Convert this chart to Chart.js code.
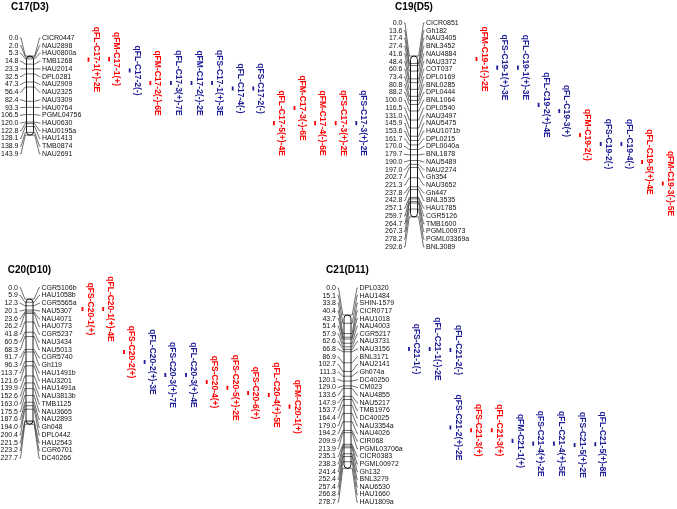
<!DOCTYPE html>
<html><head><meta charset="utf-8">
<script src="https://cdn.jsdelivr.net/npm/chart.js@4.4.1/dist/chart.umd.min.js"></script>
<style>
html,body{margin:0;padding:0;background:#fff;}
#wrap{position:relative;width:677px;height:509px;overflow:hidden;background:#fff;}
canvas{position:absolute;}
</style></head><body><div id="wrap">
<canvas id="c17" width="382" height="262" style="left:0px;top:0px"></canvas>
<canvas id="c19" width="295" height="262" style="left:382px;top:0px"></canvas>
<canvas id="c20" width="316" height="247" style="left:0px;top:262px"></canvas>
<canvas id="c21" width="361" height="247" style="left:316px;top:262px"></canvas>
</div>
<script>
// ---------------- DATA ----------------
// C17(D3)
const c17Title = "C17(D3)";
const c17Markers = ["CICR0447","NAU2898","HAU0800a","TMB1268","HAU2014","DPL0281","NAU2909","NAU2325","NAU3309","HAU0764","PGML04756","HAU0630","HAU0195a","HAU1413","TMB0874","NAU2691"];
const c17Pos = [0.0,2.0,5.3,14.8,23.3,32.5,47.3,56.4,82.4,93.3,106.5,120.0,122.8,128.1,138.9,143.9];
const c17Qtl = ["qFL-C17-1(+)-2E","qFM-C17-1(+)","qFL-C17-2(-)","qFM-C17-2(-)-6E","qFL-C17-3(+)-7E","qFM-C17-2(-)-2E","qFS-C17-1(+)-3E","qFL-C17-4(-)","qFS-C17-2(-)","qFL-C17-5(+)-4E","qFM-C17-3(-)-6E","qFM-C17-4(-)-6E","qFS-C17-3(+)-2E","qFS-C17-3(+)-2E"];
const c17QtlStart = [2.7,1.8,22.6,45.3,45.3,45.3,45.3,55.3,55.3,118.2,90.7,118.2,118.2,118.2];
const c17QtlEnd   = [10.3,9.4,30.2,52.9,52.9,52.9,52.9,62.9,62.9,125.8,98.3,125.8,125.8,125.8];
const c17QtlTrack = [1,2,3,4,5,6,7,8,9,10,11,12,13,14];
const c17QtlGroup = ["R","R","B","R","B","B","B","B","B","R","R","R","R","B"];

// C19(D5)
const c19Title = "C19(D5)";
const c19Markers = ["CICR0851","Gh182","NAU3405","BNL3452","NAU4884","NAU3372","COT037","DPL0169","BNL0285","DPL0444","BNL1064","DPL0540","NAU3497","NAU5475","HAU1071b","DPL0215","DPL0040a","BNL1878","NAU5489","NAU2274","Gh354","NAU3652","Gh447","BNL3535","HAU1785","CGR5126","TMB1600","PGML00973","PGML03369a","BNL3089"];
const c19Pos = [0.0,13.6,17.4,27.4,41.6,48.4,60.6,73.4,80.8,88.2,100.0,116.5,131.0,145.9,153.6,161.7,170.0,179.7,190.0,197.0,202.7,221.3,237.8,242.8,257.1,259.7,264.7,267.3,278.2,292.6];
const c19Qtl = ["qFM-C19-1(-)-2E","qFS-C19-1(+)-3E","qFL-C19-1(+)-3E","qFL-C19-2(+)-4E","qFL-C19-3(+)","qFM-C19-2(-)","qFS-C19-2(-)","qFL-C19-4(-)","qFL-C19-5(+)-4E","qFM-C19-3(-)-5E"];
const c19QtlStart = [1.7,17.2,17.2,85.2,96.2,139.8,156.2,156.2,188.9,228.0];
const c19QtlEnd   = [9.3,24.8,24.8,92.8,103.8,147.4,163.8,163.8,196.5,235.6];
const c19QtlTrack = [1,2,3,4,5,6,7,8,9,10];
const c19QtlGroup = ["R","B","B","B","B","R","B","B","R","R"];

// C20(D10)
const c20Title = "C20(D10)";
const c20Markers = ["CGR5106b","HAU1058b","CGR5565a","NAU5307","NAU4071","HAU0773","CGR5237","NAU3434","NAU5013","CGR5740","Gh119","HAU1491b","HAU3201","HAU1491a","NAU3813b","TMB1125","NAU3665","NAU2893","Gh048","DPL0442","HAU2543","CGR6701","DC40266"];
const c20Pos = [0.0,5.9,12.3,20.1,23.6,26.2,41.8,60.5,68.3,91.7,96.3,113.7,121.6,139.9,152.6,163.0,175.5,187.6,194.0,200.4,221.5,223.2,227.7];
const c20Qtl = ["qFS-C20-1(+)","qFL-C20-1(+)-4E","qFS-C20-2(+)","qFL-C20-2(+)-3E","qFS-C20-3(+)-7E","qFL-C20-3(+)-4E","qFS-C20-4(+)","qFS-C20-5(+)-2E","qFS-C20-6(+)","qFL-C20-4(+)-5E","qFM-C20-1(+)"];
const c20QtlStart = [14.4,14.4,92.6,110.7,134.4,134.4,147.1,157.5,167.1,170.7,192.0];
const c20QtlEnd   = [22.0,22.0,100.2,118.3,142.0,142.0,154.7,165.1,174.7,178.3,199.6];
const c20QtlTrack = [1,2,3,4,5,6,7,8,9,10,11];
const c20QtlGroup = ["R","R","R","B","B","B","R","R","R","R","R"];

// C21(D11)
const c21Title = "C21(D11)";
const c21Markers = ["DPL0320","HAU1484","SHIN-1579","CICR0717","HAU1018","NAU4003","CGR5217","NAU3731","NAU3156","BNL3171","NAU2141","Gh074a","DC40250","CM023","NAU4855","NAU5217","TMB1976","DC40025","NAU3354a","NAU4026","CIR068","PGML03706a","CICR0383","PGML00972","Gh132","BNL3279","NAU6530","HAU1660","HAU1809a"];
const c21Pos = [0.0,15.1,33.8,40.4,43.7,51.4,57.9,62.6,66.8,86.9,102.7,111.3,120.1,129.0,133.6,147.9,153.7,164.4,179.0,194.2,209.9,213.9,235.1,238.3,241.4,252.4,257.4,266.8,278.7];
const c21Qtl = ["qFS-C21-1(-)","qFL-C21-1(-)-2E","qFL-C21-2(-)","qFS-C21-2(+)-2E","qFS-C21-3(+)","qFL-C21-3(+)","qFM-C21-1(+)","qFS-C21-4(+)-2E","qFL-C21-4(+)-5E","qFS-C21-5(+)-2E","qFL-C21-5(+)-8E"];
const c21QtlStart = [58.0,58.0,59.8,200.7,205.8,205.8,225.2,230.2,230.2,232.6,231.2];
const c21QtlEnd   = [65.6,65.6,67.4,208.3,213.4,213.4,232.8,237.8,237.8,240.2,238.8];
const c21QtlTrack = [1,2,3,3,4,5,6,7,8,9,10];
const c21QtlGroup = ["B","B","B","B","R","R","B","B","B","B","B"];

// ---------------- STYLE / LAYOUT ----------------
const GROUP_COLOR = {R:"#ff0000", B:"#1c1c96"};
const PX_PER_CM = 0.55;
const FONT = '"Liberation Sans", Arial, Helvetica, sans-serif';

const layouts = {
  c17:{left:0,   top:0,   w:382, h:262, chromX:30,    chromTop:56,  track1X:88.5,  trackStep:20.6, rowTop:38,  rowStep:7.73, titleY:7},
  c19:{left:382, top:0,   w:295, h:262, chromX:414,   chromTop:56,  track1X:476.5, trackStep:20.7, rowTop:23,  rowStep:7.72, titleY:7},
  c20:{left:0,   top:262, w:316, h:247, chromX:29.5,  chromTop:299, track1X:82.5,  trackStep:20.7, rowTop:287.7, rowStep:7.75, titleY:270},
  c21:{left:316, top:262, w:361, h:247, chromX:347.5, chromTop:315, track1X:409,   trackStep:20.7, rowTop:288, rowStep:7.65, titleY:270}
};

const mapPlugin = {
  id:'linkageMap',
  afterDatasetsDraw(chart){
    const o = chart.options.plugins.linkageMap;
    const L = o.layout;
    const xs = chart.scales.x, ys = chart.scales.y;
    const ctx = chart.ctx;
    ctx.save();
    const cx = xs.getPixelForValue(o.chromTrack);
    const halfW = 3.5;
    const cl = cx - halfW, cr = cx + halfW;
    const yTop = ys.getPixelForValue(0);
    const yBot = ys.getPixelForValue(o.pos[o.pos.length-1]);
    // title
    ctx.fillStyle = '#000';
    ctx.font = 'bold 10px ' + FONT;
    ctx.textAlign = 'center'; ctx.textBaseline = 'middle';
    ctx.fillText(o.title, cx, L.titleY - L.top);
    // connectors + labels
    const numRight = cx - 11.5, nameLeft = cx + 12;
    ctx.font = '7px ' + FONT;
    ctx.strokeStyle = '#333'; ctx.lineWidth = 0.7;
    o.markers.forEach((m,i)=>{
      const ry = L.rowTop - L.top + i*L.rowStep;
      const py = ys.getPixelForValue(o.pos[i]);
      ctx.beginPath();
      ctx.moveTo(numRight+1.5, ry); ctx.lineTo(numRight+2.5, ry);
      ctx.lineTo(cl-1.2, py); ctx.lineTo(cr+1.2, py);
      ctx.lineTo(nameLeft-2.5, ry); ctx.lineTo(nameLeft-1.5, ry);
      ctx.stroke();
      ctx.fillStyle = '#111';
      ctx.textAlign = 'right'; ctx.fillText(o.pos[i].toFixed(1), numRight, ry);
      ctx.textAlign = 'left'; ctx.fillText(m, nameLeft, ry);
    });
    // chromosome body
    ctx.strokeStyle = '#000'; ctx.lineWidth = 0.9;
    ctx.beginPath();
    ctx.moveTo(cl, yTop+halfW);
    ctx.arc(cx, yTop+halfW, halfW, Math.PI, 0);
    ctx.lineTo(cr, yBot-halfW);
    ctx.arc(cx, yBot-halfW, halfW, 0, Math.PI);
    ctx.closePath();
    ctx.stroke();
    // QTL labels
    ctx.font = 'bold 8.5px ' + FONT;
    ctx.textAlign = 'center'; ctx.textBaseline = 'middle';
    o.qtl.forEach((q,i)=>{
      const bx = xs.getPixelForValue(o.track[i]) + 7.5;
      const by = (ys.getPixelForValue(o.qStart[i]) + ys.getPixelForValue(o.qEnd[i]))/2;
      ctx.save();
      ctx.translate(bx, by);
      ctx.rotate(Math.PI/2);
      ctx.fillStyle = GROUP_COLOR[o.group[i]];
      ctx.fillText(q, 0, 0);
      ctx.restore();
    });
    ctx.restore();
  }
};

function buildMap(id, title, markers, pos, qtl, qStart, qEnd, track, group){
  const L = layouts[id];
  const xMin = 1 - (L.track1X - L.left)/L.trackStep;
  const xMax = xMin + L.w/L.trackStep;
  const yMin = -(L.chromTop - L.top)/PX_PER_CM;
  const yMax = yMin + L.h/PX_PER_CM;
  const chromTrack = 1 - (L.track1X - L.chromX)/L.trackStep;
  const datasets = qtl.map((q,i)=>({
    label:q,
    data:[{x:track[i], y:qStart[i]},{x:track[i], y:qEnd[i]}],
    borderColor:GROUP_COLOR[group[i]],
    borderWidth:1.8,
    pointRadius:0,
    borderCapStyle:'butt',
    fill:false
  }));
  return new Chart(document.getElementById(id), {
    type:'line',
    data:{datasets},
    options:{
      responsive:false, animation:false, devicePixelRatio:1, events:[],
      layout:{padding:0},
      scales:{
        x:{type:'linear', display:false, min:xMin, max:xMax},
        y:{type:'linear', display:false, reverse:true, min:yMin, max:yMax}
      },
      plugins:{
        legend:{display:false}, tooltip:{enabled:false},
        linkageMap:{layout:L, title, markers, pos, qtl, qStart, qEnd, track, group, chromTrack}
      }
    },
    plugins:[mapPlugin]
  });
}

buildMap('c17', c17Title, c17Markers, c17Pos, c17Qtl, c17QtlStart, c17QtlEnd, c17QtlTrack, c17QtlGroup);
buildMap('c19', c19Title, c19Markers, c19Pos, c19Qtl, c19QtlStart, c19QtlEnd, c19QtlTrack, c19QtlGroup);
buildMap('c20', c20Title, c20Markers, c20Pos, c20Qtl, c20QtlStart, c20QtlEnd, c20QtlTrack, c20QtlGroup);
buildMap('c21', c21Title, c21Markers, c21Pos, c21Qtl, c21QtlStart, c21QtlEnd, c21QtlTrack, c21QtlGroup);
</script>
</body></html>
